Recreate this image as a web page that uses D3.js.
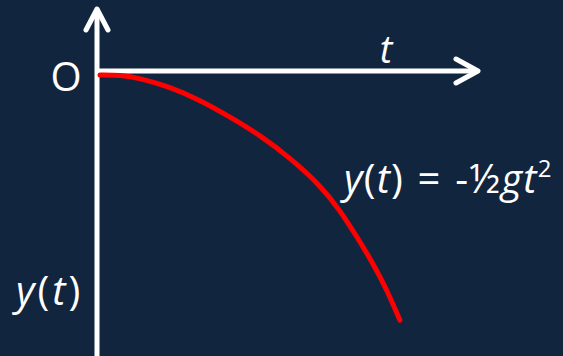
<!DOCTYPE html>
<html lang="en">
<head>
<meta charset="UTF-8" />
<title>Free fall y(t)</title>
<script src="https://d3js.org/d3.v7.min.js"></script>
<style>
  html, body { margin: 0; padding: 0; background: #12253f; overflow: hidden; }
  text { font-family: "Open Sans", "Noto Sans", sans-serif; fill: #fff; }
</style>
</head>
<body>
<script>
  var w = 563;
  var h = 356;

  // points (t in axis units, y negative = downwards)
  var tValues = [0.8, 6.1, 11.3, 19.2, 27.1, 35, 42.9, 50.8, 58.7, 63.9, 68.4, 72.6, 76.3, 79.7];
  var yValues = [-1.4, -1.4, -2.5, -5.6, -10.2, -16.1, -22.5, -30.5, -40, -48.8, -58.2, -67.4, -76.8, -87.4];

  var xScale = d3.scaleLinear().domain([0, 100]).range([97, 477]);
  var yScale = d3.scaleLinear().domain([0, -100]).range([71, 356]);

  var svg = d3.select("body")
    .append("svg")
    .attr("width", w)
    .attr("height", h);

  svg.append("rect")
    .attr("width", w)
    .attr("height", h)
    .attr("fill", "#12253f");

  // vertical axis with arrow
  var x0 = xScale(0);
  var y0 = yScale(0);
  svg.append("line")
    .attr("x1", x0).attr("y1", h)
    .attr("x2", x0).attr("y2", 9)
    .attr("stroke", "white")
    .attr("stroke-width", 5);
  svg.append("path")
    .attr("d", "M" + (x0 - 11) + "," + 30 + "L" + x0 + "," + 9 + "L" + (x0 + 11) + "," + 30)
    .attr("fill", "none")
    .attr("stroke", "white")
    .attr("stroke-width", 5)
    .attr("stroke-linecap", "round")
    .attr("stroke-linejoin", "round");

  // horizontal axis with arrow
  var xEnd = xScale(100) + 1;
  svg.append("line")
    .attr("x1", x0 - 2).attr("y1", y0)
    .attr("x2", xEnd).attr("y2", y0)
    .attr("stroke", "white")
    .attr("stroke-width", 5);
  svg.append("path")
    .attr("d", "M" + (xEnd - 22) + "," + (y0 - 12) + "L" + xEnd + "," + y0 + "L" + (xEnd - 22) + "," + (y0 + 12))
    .attr("fill", "none")
    .attr("stroke", "white")
    .attr("stroke-width", 5)
    .attr("stroke-linecap", "round")
    .attr("stroke-linejoin", "round");

  // the curve
  var line = d3.line()
    .x(function (d, i) { return xScale(tValues[i]); })
    .y(function (d, i) { return yScale(yValues[i]); })
    .curve(d3.curveBasis);

  svg.append("path")
    .datum(tValues)
    .attr("d", line)
    .attr("fill", "none")
    .attr("stroke", "#ff0000")
    .attr("stroke-width", 5)
    .attr("stroke-linecap", "round");

  // labels
  svg.append("text")
    .attr("x", 66).attr("y", 91)
    .attr("text-anchor", "middle")
    .attr("font-size", 40)
    .text("O");

  svg.append("text")
    .attr("x", 386).attr("y", 63)
    .attr("text-anchor", "middle")
    .attr("font-size", 38)
    .attr("font-style", "italic")
    .text("t");

  var eq = svg.append("text")
    .attr("x", 344).attr("y", 193)
    .attr("font-size", 40)
    .attr("letter-spacing", 1.2)
    .attr("word-spacing", 2);
  eq.append("tspan").attr("font-style", "italic").text("y");
  eq.append("tspan").text("(");
  eq.append("tspan").attr("font-style", "italic").text("t");
  eq.append("tspan").text(") = -½");
  eq.append("tspan").attr("font-style", "italic").text("gt");
  eq.append("tspan").attr("font-size", 24).attr("dy", -16).attr("letter-spacing", 0).text("2");

  var yl = svg.append("text")
    .attr("x", 16).attr("y", 305)
    .attr("font-size", 40)
    .attr("letter-spacing", 3);
  yl.append("tspan").attr("font-style", "italic").text("y");
  yl.append("tspan").text("(");
  yl.append("tspan").attr("font-style", "italic").text("t");
  yl.append("tspan").text(")");
</script>
</body>
</html>
